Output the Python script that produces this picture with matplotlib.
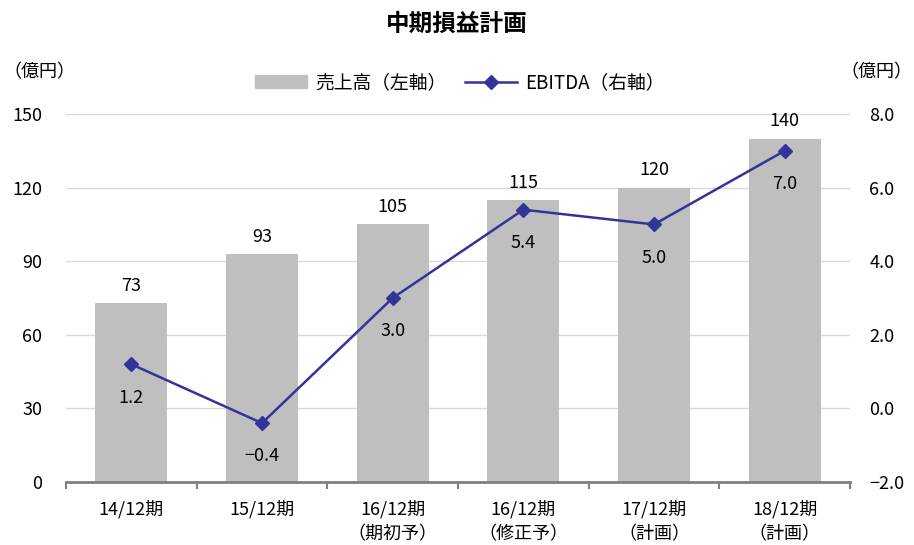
import numpy as np
import matplotlib
matplotlib.use("Agg")
from matplotlib import pyplot as plt
from matplotlib.lines import Line2D
from matplotlib.patches import Patch

plt.rcParams['font.family'] = ['Noto Sans CJK JP', 'DejaVu Sans']
plt.rcParams['axes.unicode_minus'] = True

# --- data ---
categories = ["14/12期", "15/12期", "16/12期\n（期初予）", "16/12期\n（修正予）", "17/12期\n（計画）", "18/12期\n（計画）"]
sales = [73, 93, 105, 115, 120, 140]
ebitda = [1.2, -0.4, 3.0, 5.4, 5.0, 7.0]
left_ticks = [0, 30, 60, 90, 120, 150]
right_ticks = [-2.0, 0.0, 2.0, 4.0, 6.0, 8.0]

bar_color = "#BFBFBF"
line_color = "#333399"
grid_color = "#D9D9D9"
axis_color = "#808080"

fig = plt.figure(figsize=(9.14, 5.45), dpi=100)
ax = fig.add_axes([0.0722, 0.1156, 0.8578, 0.6752])
ax2 = ax.twinx()

x = np.arange(len(categories))

# bars on left axis
ax.bar(x, sales, width=0.55, color=bar_color, zorder=2)
ax.set_xlim(-0.5, len(categories) - 0.5)
ax.set_ylim(0, 150)
ax.set_yticks(left_ticks)
ax.set_yticklabels([str(v) for v in left_ticks], fontsize=13)
for v in left_ticks[1:]:
    ax.axhline(v, color=grid_color, lw=1, zorder=0)
for xi, v in zip(x, sales):
    ax.annotate(str(v), (xi, v), xytext=(0, 6), textcoords="offset points",
                ha="center", va="bottom", fontsize=13)

# line on right axis
ax2.plot(x, ebitda, color=line_color, lw=1.8, marker="D", markersize=7, zorder=3)
ax2.set_ylim(-2, 8)
ax2.set_yticks(right_ticks)
ax2.set_yticklabels(["−2.0" if v < 0 else f"{v:.1f}" for v in right_ticks], fontsize=13)
for xi, v in zip(x, ebitda):
    lab = f"−{abs(v):.1f}" if v < 0 else f"{v:.1f}"
    ax2.annotate(lab, (xi, v), xytext=(0, -24), textcoords="offset points",
                 ha="center", va="center", fontsize=13)

# x axis
ax.set_xticks(x)
ax.set_xticklabels(categories, fontsize=13, linespacing=1.45)
ax.set_xticks(np.arange(-0.5, len(categories)), minor=True)
ax.tick_params(axis="x", which="major", length=0, pad=13)
ax.tick_params(axis="x", which="minor", length=5, direction="out", color=axis_color, width=1.5)
ax.tick_params(axis="y", length=0, pad=17)
ax2.tick_params(axis="y", length=0, pad=14)

for a in (ax, ax2):
    for s in ("top", "left", "right"):
        a.spines[s].set_visible(False)
ax.spines["bottom"].set_color(axis_color)
ax.spines["bottom"].set_linewidth(2)
ax2.spines["bottom"].set_visible(False)

# texts
fig.text(0.5, 0.957, "中期損益計画", ha="center", va="center", fontsize=17, fontweight="bold")
fig.text(0.004, 0.868, "（億円）", ha="left", va="center", fontsize=13)
fig.text(0.998, 0.868, "（億円）", ha="right", va="center", fontsize=13)

handles = [Patch(color=bar_color),
           Line2D([0], [0], color=line_color, lw=1.8, marker="D", markersize=7)]
fig.legend(handles, ["売上高（左軸）", "EBITDA（右軸）"], loc="center",
           bbox_to_anchor=(0.503, 0.848), ncol=2, frameon=False, fontsize=13.5,
           handlelength=2.8, columnspacing=1.0, handletextpad=0.4)

fig.savefig("out.png", dpi=100)
